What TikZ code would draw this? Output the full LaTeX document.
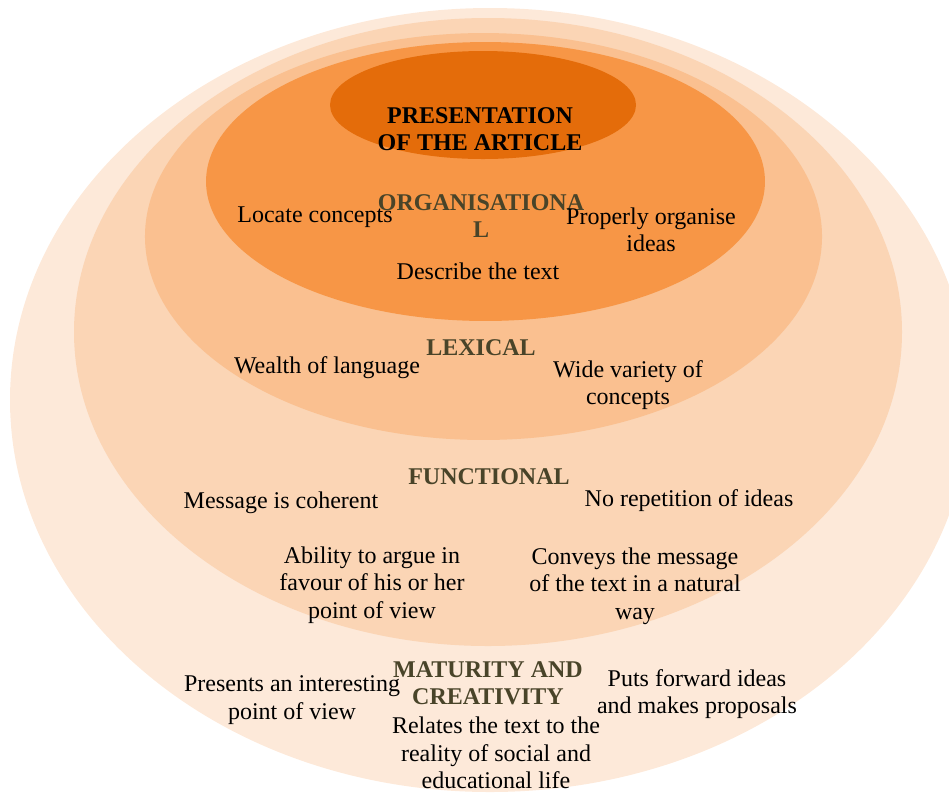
\documentclass[tikz,border=0pt]{standalone}
\usepackage{fontspec}
\setmainfont{Liberation Serif}
\definecolor{ring1}{HTML}{FDE9D9}
\definecolor{ring2}{HTML}{FBD5B5}
\definecolor{ring3}{HTML}{FAC090}
\definecolor{ring4}{HTML}{F79646}
\definecolor{ring5}{HTML}{E46C0A}
\definecolor{olive}{HTML}{494429}
\tikzset{
  item/.style={align=center,font=\fontsize{18}{20.5}\selectfont,inner sep=0pt},
  level/.style={item,font=\fontsize{18}{20.5}\selectfont\bfseries,text=olive}
}
\begin{document}
\begin{tikzpicture}[x=0.75pt,y=-0.75pt]
 \useasboundingbox (0,0) rectangle (949,794);
 \clip (0,0) rectangle (949,794);
 % nested rings, outermost first
 \foreach \cx/\cy/\rx/\ry/\col in {490/400/360/294/ring1,488/332/310.5/235.5/ring2,
     483.5/236.5/253.9/152.6/ring3,485.5/181.5/209.6/104.6/ring4,483/105/114.75/40.5/ring5}
   \fill[\col] (\cx,\cy) ellipse [x radius=\rx pt, y radius=\ry pt];
 \node[item,font=\fontsize{18}{20.5}\selectfont\bfseries] (pres) at (480,129) {PRESENTATION\\OF THE ARTICLE};
 \node[level] (org) at (481,216) {ORGANISATIONA\\L};
 \node[item] (locate) at (315,217) {Locate concepts};
 \node[item] (proper) at (651,230) {Properly organise\\ideas};
 \node[item] (describe) at (478,271) {Describe the text};
 \node[level] (lex) at (481,348) {LEXICAL};
 \node[item] (wealth) at (327,368) {Wealth of language};
 \node[item] (variety) at (628,385) {Wide variety of\\concepts};
 \node[level] (func) at (489,477) {FUNCTIONAL};
 \node[item] (coherent) at (281,503) {Message is coherent};
 \node[item] (norep) at (689,501) {No repetition of ideas};
 \node[item] (argue) at (372,585) {Ability to argue in\\favour of his or her\\point of view};
 \node[item] (conveys) at (635,586) {Conveys the message\\of the text in a natural\\way};
 \node[level] (mat) at (488,683) {MATURITY AND\\CREATIVITY};
 \node[item] (interest) at (292,700) {Presents an interesting\\point of view};
 \node[item] (puts) at (697,694) {Puts forward ideas\\and makes proposals};
 \node[item] (relates) at (496,753) {Relates the text to the\\reality of social and\\educational life};
\end{tikzpicture}
\end{document}
